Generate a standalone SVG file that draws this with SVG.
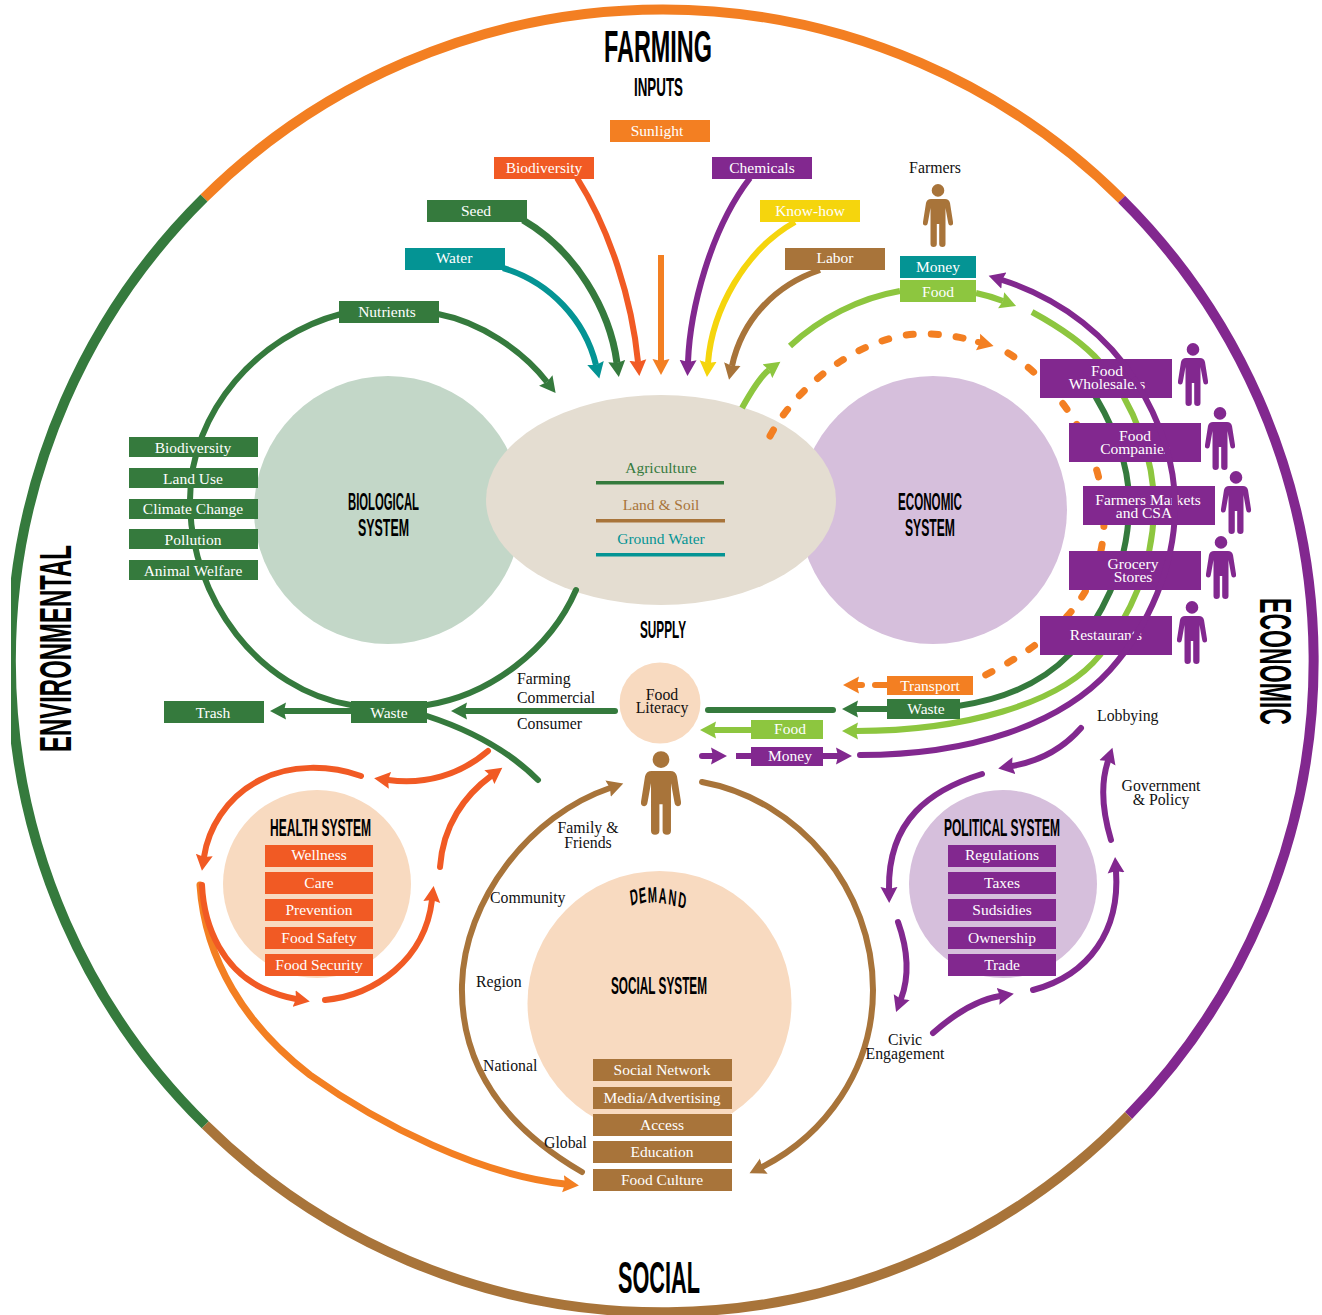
<svg xmlns="http://www.w3.org/2000/svg" width="1322" height="1315" viewBox="0 0 1322 1315">
<style>
.l{fill:none;stroke-width:6;stroke-linecap:round}
.b{stroke-linecap:butt}
.dg{stroke:#357a3d}.lm{stroke:#8dc63f}.pu{stroke:#82288f}.or{stroke:#f37f22}.rd{stroke:#f15a24}.te{stroke:#049494}.br{stroke:#a8743a}.ye{stroke:#f5d50d}
.fdg{fill:#357a3d}.flm{fill:#8dc63f}.fpu{fill:#82288f}.for{fill:#f37f22}.frd{fill:#f15a24}.fte{fill:#049494}.fbr{fill:#a8743a}.fye{fill:#f5d50d}
.ring{fill:none;stroke-width:10}
.d{stroke-dasharray:7 18;stroke-width:7}
text{font-family:"Liberation Serif","DejaVu Serif",serif}
.w{fill:#fff;font-size:15.5px;text-anchor:middle}
.k{fill:#111;font-size:15.8px}
.c{text-anchor:middle}
.h{font-family:"Liberation Sans Narrow","Liberation Sans",Arial,sans-serif;font-weight:700;fill:#000}
</style>
<defs>
<marker id="a-dg" markerUnits="userSpaceOnUse" markerWidth="18" markerHeight="18" refX="2" refY="9" orient="auto"><path d="M0,.5 L16,9 L0,17.5 L2,9Z" fill="#357a3d"/></marker>
<marker id="a-lm" markerUnits="userSpaceOnUse" markerWidth="18" markerHeight="18" refX="2" refY="9" orient="auto"><path d="M0,.5 L16,9 L0,17.5 L2,9Z" fill="#8dc63f"/></marker>
<marker id="a-pu" markerUnits="userSpaceOnUse" markerWidth="18" markerHeight="18" refX="2" refY="9" orient="auto"><path d="M0,.5 L16,9 L0,17.5 L2,9Z" fill="#82288f"/></marker>
<marker id="a-or" markerUnits="userSpaceOnUse" markerWidth="18" markerHeight="18" refX="2" refY="9" orient="auto"><path d="M0,.5 L16,9 L0,17.5 L2,9Z" fill="#f37f22"/></marker>
<marker id="a-rd" markerUnits="userSpaceOnUse" markerWidth="18" markerHeight="18" refX="2" refY="9" orient="auto"><path d="M0,.5 L16,9 L0,17.5 L2,9Z" fill="#f15a24"/></marker>
<marker id="a-te" markerUnits="userSpaceOnUse" markerWidth="18" markerHeight="18" refX="2" refY="9" orient="auto"><path d="M0,.5 L16,9 L0,17.5 L2,9Z" fill="#049494"/></marker>
<marker id="a-br" markerUnits="userSpaceOnUse" markerWidth="18" markerHeight="18" refX="2" refY="9" orient="auto"><path d="M0,.5 L16,9 L0,17.5 L2,9Z" fill="#a8743a"/></marker>
<marker id="a-ye" markerUnits="userSpaceOnUse" markerWidth="18" markerHeight="18" refX="2" refY="9" orient="auto"><path d="M0,.5 L16,9 L0,17.5 L2,9Z" fill="#f5d50d"/></marker>
<path id="person" d="M-6.3,6.4a6.3,6.3 0 1,0 12.6,0a6.3,6.3 0 1,0 -12.6,0Z M-7,15 H7 Q11,15 12,19 L15,38 Q15.5,41.5 12.5,41.5 Q10.5,41.5 10,38 L7.5,24 V60 Q7.5,63 4.5,63 Q1.2,63 1.2,60 V40 H-1.2 V60 Q-1.2,63 -4.5,63 Q-7.5,63 -7.5,60 V24 L-10,38 Q-10.5,41.5 -12.5,41.5 Q-15.5,41.5 -15,38 L-12,19 Q-11,15 -7,15Z"/>
</defs>

<g id="outer-ring">
<path class="ring or" d="M204,198 A651,651 0 0 1 1121.6,199.2"/>
<path class="ring pu" d="M1121.6,199.2 A651,651 0 0 1 1128.5,1115.6"/>
<path class="ring br" d="M1128.5,1115.6 A651,651 0 0 1 205.2,1124.8"/>
<path class="ring dg" d="M205.2,1124.8 A651,651 0 0 1 204,198"/>
<rect x="0" y="0" width="11" height="1315" fill="#fff"/>
</g>

<g id="title-farming">
<text class="h" x="604" y="62" font-size="44" textLength="108" lengthAdjust="spacingAndGlyphs">FARMING</text>
<text class="h" x="634" y="96" font-size="25" textLength="49" lengthAdjust="spacingAndGlyphs">INPUTS</text>
</g>
<text id="title-social" class="h" x="618" y="1293" font-size="44" textLength="82" lengthAdjust="spacingAndGlyphs">SOCIAL</text>
<text id="title-environmental" class="h" transform="translate(71,752) rotate(-90)" font-size="45" textLength="207" lengthAdjust="spacingAndGlyphs">ENVIRONMENTAL</text>
<text id="title-economic" class="h" transform="translate(1260,598) rotate(90)" font-size="45" textLength="127" lengthAdjust="spacingAndGlyphs">ECONOMIC</text>
<text id="title-supply" class="h" x="640" y="638" font-size="23" textLength="46" lengthAdjust="spacingAndGlyphs">SUPPLY</text>

<g id="biological-system">
<circle cx="388" cy="510" r="134" fill="#c3d7c8"/>
<text class="h" x="348" y="510" font-size="23" textLength="71" lengthAdjust="spacingAndGlyphs">BIOLOGICAL</text>
<text class="h" x="358" y="536" font-size="23" textLength="51" lengthAdjust="spacingAndGlyphs">SYSTEM</text>
</g>
<g id="economic-system">
<circle cx="933" cy="510" r="134" fill="#d6bfdc"/>
<text class="h" x="898" y="510" font-size="23" textLength="64" lengthAdjust="spacingAndGlyphs">ECONOMIC</text>
<text class="h" x="905" y="536" font-size="23" textLength="50" lengthAdjust="spacingAndGlyphs">SYSTEM</text>
</g>
<g id="supply-ellipse">
<ellipse cx="661" cy="500" rx="175" ry="105" fill="#e4ddd1"/>
<text x="661" y="473" font-size="15.5" text-anchor="middle" class="fdg">Agriculture</text>
<rect x="596" y="481" width="128" height="3.5" class="fdg"/>
<text x="661" y="510" font-size="15.5" text-anchor="middle" class="fbr">Land &amp; Soil</text>
<rect x="596" y="519" width="129" height="3.5" class="fbr"/>
<text x="661" y="544" font-size="15.5" text-anchor="middle" class="fte">Ground Water</text>
<rect x="596" y="553" width="129" height="3.5" class="fte"/>
</g>

<g id="connectors">
<path class="l te b" marker-end="url(#a-te)" d="M503,268 C550,282 585,320 596,365"/>
<path class="l dg b" style="stroke-width:7" marker-end="url(#a-dg)" d="M523,220 C575,250 610,310 617,363"/>
<path class="l rd b" marker-end="url(#a-rd)" d="M577,178 C610,230 632,300 638,362"/>
<path class="l or b" marker-end="url(#a-or)" d="M661,255 V361"/>
<path class="l pu b" marker-end="url(#a-pu)" d="M750,178 C710,230 690,310 688,362"/>
<path class="l ye b" marker-end="url(#a-ye)" d="M795,222 C745,250 712,310 708,363"/>
<path class="l br b" marker-end="url(#a-br)" d="M820,270 C775,285 742,320 732,366"/>
<path class="l dg" d="M341,314 C260,335 190,410 190,500 C190,600 260,690 351,705"/>
<path class="l dg b" marker-end="url(#a-dg)" d="M438,314 C480,322 522,350 547,382"/>
<path class="l dg" d="M427,705 C490,695 550,650 576,590"/>
<path class="l dg" d="M427,716 C470,730 510,752 538,780"/>
<path class="l dg" marker-end="url(#a-dg)" d="M615,711 H465"/>
<path class="l dg b" marker-end="url(#a-dg)" d="M351,711 H284"/>
<path class="l dg" d="M708,710 H833"/>
<path class="l dg b" marker-end="url(#a-dg)" d="M887,709 H856"/>
<path class="l lm b" marker-end="url(#a-lm)" d="M751,730 H714"/>
<path class="l pu" marker-end="url(#a-pu)" d="M702,756 H713"/>
<path class="l pu b" d="M736,756 H751"/>
<path class="l pu b" marker-end="url(#a-pu)" d="M823,756 H838"/>
<path class="l lm b" marker-end="url(#a-lm)" d="M742,408 C752,390 762,375 769,370"/>
<path class="l lm b" d="M790,346 C820,318 860,298 900,291"/>
<path class="l lm b" marker-end="url(#a-lm)" d="M976,293 Q990,296 1003,301"/>
<path class="l lm b" marker-end="url(#a-lm)" d="M1032,312 C1065,330 1085,345 1100,362 C1135,405 1155,460 1154,510 C1152,570 1130,615 1100,655 C1060,705 960,731 856,731"/>
<path class="l dg" d="M1085,380 C1115,425 1131,470 1129,510 C1127,570 1100,620 1070,654 C1040,685 1000,700 958,706"/>
<path class="l or d" d="M770,436 C800,380 870,330 930,334 C950,335 965,338 978,342"/>
<path class="l or" marker-end="url(#a-or)" d="M978,342 L980,342.5"/>
<path class="l or d" d="M1008,353 C1060,385 1104,450 1104,520 C1104,590 1060,640 975,680"/>
<path class="l or" d="M887,685 H875"/>
<path class="l or" marker-end="url(#a-or)" d="M862,685 H857"/>
<path class="l or" style="stroke-width:7" marker-end="url(#a-or)" d="M200,885 C205,960 245,1025 310,1075 C380,1125 480,1175 565,1184"/>
<path class="l rd" marker-end="url(#a-rd)" d="M361,776 C330,765 290,764 260,780 C225,798 208,830 204,857"/>
<path class="l rd" marker-end="url(#a-rd)" d="M202,885 C204,930 225,970 262,988 C275,994 285,997 296,999"/>
<path class="l rd" marker-end="url(#a-rd)" d="M325,1000 C375,995 425,960 432,900"/>
<path class="l rd" marker-end="url(#a-rd)" d="M440,867 C443,825 465,795 491,776"/>
<path class="l rd" marker-end="url(#a-rd)" d="M488,751 C460,775 425,785 388,780"/>
<path class="l br" marker-end="url(#a-br)" d="M582,1172 C510,1130 460,1070 462,985 C464,900 530,815 610,788"/>
<path class="l br" marker-end="url(#a-br)" d="M702,782 C800,800 873,890 873,990 C873,1070 825,1135 762,1167"/>
<path class="l pu" marker-end="url(#a-pu)" d="M982,774 C930,790 888,820 889,889"/>
<path class="l pu" marker-end="url(#a-pu)" d="M898,922 C908,950 910,975 901,999"/>
<path class="l pu" marker-end="url(#a-pu)" d="M933,1033 C950,1018 975,1000 1000,996"/>
<path class="l pu" marker-end="url(#a-pu)" d="M1033,990 C1090,975 1120,930 1116,871"/>
<path class="l pu" marker-end="url(#a-pu)" d="M1111,840 C1102,810 1100,785 1108,761"/>
<path class="l pu" marker-end="url(#a-pu)" d="M1081,728 C1060,752 1035,762 1012,766"/>
</g>

<g id="input-sunlight"><rect x="610" y="120" width="100" height="22" class="for"/><text class="w" x="657" y="136">Sunlight</text></g>
<g id="input-biodiversity"><rect x="494" y="157" width="100" height="22" class="frd"/><text class="w" x="544" y="173">Biodiversity</text></g>
<g id="input-chemicals"><rect x="712" y="157" width="100" height="22" class="fpu"/><text class="w" x="762" y="173">Chemicals</text></g>
<g id="input-seed"><rect x="427" y="200" width="100" height="22" class="fdg"/><text class="w" x="476" y="216">Seed</text></g>
<g id="input-knowhow"><rect x="760" y="200" width="100" height="22" class="fye"/><text class="w" x="810" y="216">Know-how</text></g>
<g id="input-water"><rect x="405" y="248" width="100" height="22" class="fte"/><text class="w" x="454" y="263">Water</text></g>
<g id="input-labor"><rect x="785" y="248" width="100" height="22" class="fbr"/><text class="w" x="835" y="263">Labor</text></g>

<g id="farmers"><text class="k c" x="935" y="173">Farmers</text><use href="#person" x="938" y="184" class="fbr"/></g>
<g id="money-top"><rect x="900" y="256" width="76" height="22" class="fte"/><text class="w" x="938" y="272">Money</text></g>
<g id="food-top"><rect x="900" y="280" width="76" height="22" class="flm"/><text class="w" x="938" y="297">Food</text></g>
<g id="nutrients"><rect x="339" y="301" width="100" height="22" class="fdg"/><text class="w" x="387" y="317">Nutrients</text></g>

<g id="bio-biodiversity"><rect x="129" y="437" width="129" height="20" class="fdg"/><text class="w" x="193" y="453">Biodiversity</text></g>
<g id="bio-landuse"><rect x="129" y="468" width="129" height="20" class="fdg"/><text class="w" x="193" y="484">Land Use</text></g>
<g id="bio-climate"><rect x="129" y="499" width="129" height="20" class="fdg"/><text class="w" x="193" y="514">Climate Change</text></g>
<g id="bio-pollution"><rect x="129" y="529" width="129" height="20" class="fdg"/><text class="w" x="193" y="545">Pollution</text></g>
<g id="bio-welfare"><rect x="129" y="560" width="129" height="20" class="fdg"/><text class="w" x="193" y="576">Animal Welfare</text></g>

<g id="wholesalers"><rect x="1040" y="359" width="132" height="39" class="fpu"/><text class="w" x="1107" y="376">Food</text><text class="w" x="1107" y="389">Wholesalers</text><use href="#person" x="1193" y="343" class="fpu"/></g>
<g id="companies"><rect x="1069" y="423" width="132" height="39" class="fpu"/><text class="w" x="1135" y="441">Food</text><text class="w" x="1135" y="454">Companies</text><use href="#person" x="1220" y="407" class="fpu"/></g>
<g id="markets"><rect x="1083" y="486" width="132" height="39" class="fpu"/><text class="w" x="1148" y="505">Farmers Markets</text><text class="w" x="1144" y="518">and CSA</text><use href="#person" x="1236" y="471" class="fpu"/></g>
<g id="grocery"><rect x="1069" y="551" width="132" height="39" class="fpu"/><text class="w" x="1133" y="569">Grocery</text><text class="w" x="1133" y="582">Stores</text><use href="#person" x="1221" y="536" class="fpu"/></g>
<g id="restaurants"><rect x="1040" y="616" width="132" height="39" class="fpu"/><text class="w" x="1106" y="640">Restaurants</text><use href="#person" x="1192" y="601" class="fpu"/></g>

<g id="transport"><rect x="887" y="676" width="86" height="19" class="for"/><text class="w" x="930" y="691">Transport</text></g>
<g id="waste-right"><rect x="887" y="699" width="73" height="20" class="fdg"/><text class="w" x="926" y="714">Waste</text></g>
<g id="food-mid"><rect x="751" y="720" width="72" height="19" class="flm"/><text class="w" x="790" y="734">Food</text></g>
<g id="money-mid"><rect x="751" y="747" width="72" height="19" class="fpu"/><text class="w" x="790" y="761">Money</text></g>
<g id="trash"><rect x="164" y="701" width="100" height="22" class="fdg"/><text class="w" x="213" y="718">Trash</text></g>
<g id="waste-left"><rect x="351" y="701" width="76" height="22" class="fdg"/><text class="w" x="389" y="718">Waste</text></g>

<g id="food-literacy"><circle cx="660" cy="703" r="40.5" fill="#f8dac0"/><text class="k c" x="662" y="700">Food</text><text class="k c" x="662" y="713">Literacy</text></g>
<use id="consumer" href="#person" transform="translate(661,751) scale(1.33)" class="fbr"/>

<g id="sector-labels">
<text class="k" x="517" y="684">Farming</text>
<text class="k" x="517" y="703">Commercial</text>
<text class="k" x="517" y="729">Consumer</text>
<text class="k c" x="588" y="833">Family &amp;</text><text class="k c" x="588" y="848">Friends</text>
<text class="k" x="490" y="903">Community</text>
<text class="k" x="476" y="987">Region</text>
<text class="k" x="483" y="1071">National</text>
<text class="k" x="544" y="1148">Global</text>
<text class="k c" x="905" y="1045">Civic</text><text class="k c" x="905" y="1059">Engagement</text>
<text class="k" x="1097" y="721">Lobbying</text>
<text class="k c" x="1161" y="791">Government</text><text class="k c" x="1161" y="805">&amp; Policy</text>
</g>

<g id="health-system">
<circle cx="317" cy="884" r="94" fill="#f8dac0"/>
<text class="h" x="270" y="836" font-size="23" textLength="101" lengthAdjust="spacingAndGlyphs">HEALTH SYSTEM</text>
<rect x="265" y="845" width="108" height="22" class="frd"/><text class="w" x="319" y="860">Wellness</text>
<rect x="265" y="872" width="108" height="22" class="frd"/><text class="w" x="319" y="888">Care</text>
<rect x="265" y="899" width="108" height="22" class="frd"/><text class="w" x="319" y="915">Prevention</text>
<rect x="265" y="927" width="108" height="22" class="frd"/><text class="w" x="319" y="943">Food Safety</text>
<rect x="265" y="954" width="108" height="22" class="frd"/><text class="w" x="319" y="970">Food Security</text>
</g>
<g id="political-system">
<circle cx="1003" cy="884" r="94" fill="#d6bfdc"/>
<text class="h" x="944" y="836" font-size="23" textLength="116" lengthAdjust="spacingAndGlyphs">POLITICAL SYSTEM</text>
<rect x="948" y="845" width="108" height="22" class="fpu"/><text class="w" x="1002" y="860">Regulations</text>
<rect x="948" y="872" width="108" height="22" class="fpu"/><text class="w" x="1002" y="888">Taxes</text>
<rect x="948" y="899" width="108" height="22" class="fpu"/><text class="w" x="1002" y="915">Sudsidies</text>
<rect x="948" y="927" width="108" height="22" class="fpu"/><text class="w" x="1002" y="943">Ownership</text>
<rect x="948" y="954" width="108" height="22" class="fpu"/><text class="w" x="1002" y="970">Trade</text>
</g>
<g id="social-system">
<circle cx="659.5" cy="1003" r="132" fill="#f8dac0"/>
<text class="h" transform="translate(660,909) scale(.5,1)" font-size="22" x="-58 -41 -24 -3 16 35" y="-3 -5 -6 -6 -5 -3" rotate="-14 -9 -3 3 9 14">DEMAND</text>
<text class="h" x="611" y="994" font-size="23" textLength="96" lengthAdjust="spacingAndGlyphs">SOCIAL SYSTEM</text>
<rect x="593" y="1059" width="139" height="22" class="fbr"/><text class="w" x="662" y="1075">Social Network</text>
<rect x="593" y="1087" width="139" height="22" class="fbr"/><text class="w" x="662" y="1103">Media/Advertising</text>
<rect x="593" y="1114" width="139" height="22" class="fbr"/><text class="w" x="662" y="1130">Access</text>
<rect x="593" y="1141" width="139" height="22" class="fbr"/><text class="w" x="662" y="1157">Education</text>
<rect x="593" y="1169" width="139" height="22" class="fbr"/><text class="w" x="662" y="1185">Food Culture</text>
</g>

<g id="connectors-over">
<path class="l pu" marker-end="url(#a-pu)" d="M1135,380 C1110,340 1065,300 1002,280"/>
<path class="l pu" d="M1135,380 C1160,420 1176,465 1175,510 C1174,565 1150,625 1110,670 C1060,725 970,755 860,755"/>
</g>
</svg>
